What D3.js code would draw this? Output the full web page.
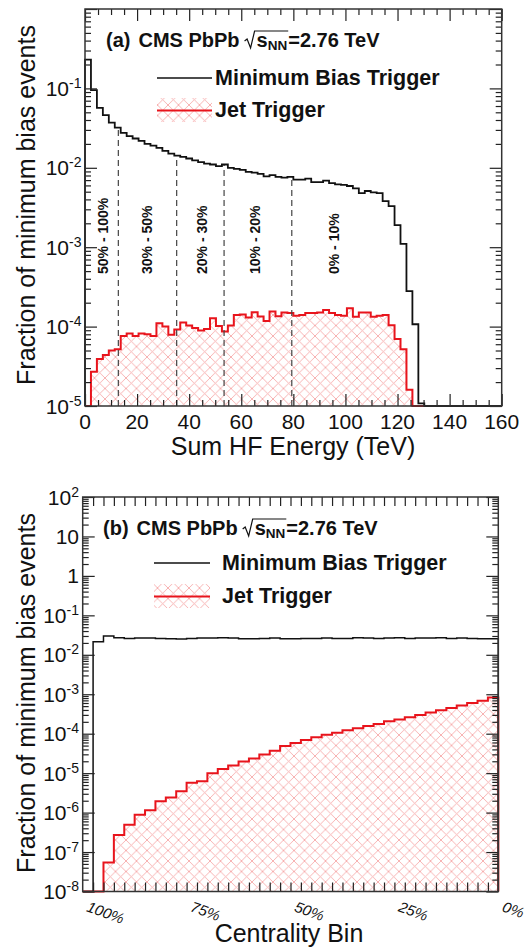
<!DOCTYPE html>
<html>
<head>
<meta charset="utf-8">
<script src="https://cdn.jsdelivr.net/npm/d3@7"></script>
<style>
body { margin: 0; background: #fff; }
text { font-family: "Liberation Sans", Arial, Helvetica, sans-serif; fill: #111; }
.leg { font-weight: bold; font-size: 20px; }
.legrow { font-weight: bold; font-size: 21.5px; }
</style>
</head>
<body>
<svg id="chart" width="532" height="947"></svg>
<script>
// Sum HF energy histogram, 70 bins over 0-160 TeV
const hfRange = [0, 160]
const hfBins = 70
const minBiasHF = [0.23, 0.095, 0.057, 0.046, 0.037, 0.032, 0.0275, 0.025, 0.0234, 0.0218,
    0.020, 0.019, 0.0178, 0.0163, 0.0151, 0.0142, 0.0137, 0.0131, 0.0124, 0.0118,
    0.0113, 0.0110, 0.0105, 0.0110, 0.0100, 0.0097, 0.0094, 0.0089, 0.0087, 0.0084,
    0.0078, 0.0081, 0.0077, 0.0075, 0.0077, 0.0071, 0.0071, 0.0073, 0.0066, 0.0066,
    0.0069, 0.0064, 0.0062, 0.0061, 0.0059, 0.0055, 0.0048, 0.0051, 0.0049, 0.0048,
    0.0038, 0.0033, 0.0019, 0.0011, 0.00028, 0.000107, 0.0000108, 0, 0, 0,
    0, 0, 0, 0, 0, 0, 0, 0, 0, 0]
const jetHF = [0, 2.7e-5, 3.9e-5, 4.4e-5, 5.0e-5, 5.2e-5, 7.6e-5, 8.2e-5, 7.6e-5, 8.2e-5,
    8.0e-5, 7.6e-5, 1.1e-4, 1.0e-4, 7.9e-5, 9.2e-5, 1.13e-4, 1.03e-4, 9.6e-5, 8.9e-5,
    9.3e-5, 1.27e-4, 1.02e-4, 8.7e-5, 1.03e-4, 1.4e-4, 1.42e-4, 1.3e-4, 1.52e-4, 1.34e-4,
    1.18e-4, 1.55e-4, 1.35e-4, 1.5e-4, 1.48e-4, 1.37e-4, 1.4e-4, 1.48e-4, 1.48e-4, 1.5e-4,
    1.62e-4, 1.48e-4, 1.4e-4, 1.37e-4, 1.7e-4, 1.33e-4, 1.5e-4, 1.5e-4, 1.33e-4, 1.37e-4,
    1.4e-4, 1.04e-4, 7.0e-5, 5.2e-5, 1.6e-5, 0, 0, 0, 0, 0,
    0, 0, 0, 0, 0, 0, 0, 0, 0, 0]
const hfCuts = [12.8, 35.2, 53.4, 79.4]
const classLabels = ['50% - 100%', '30% - 50%', '20% - 30%', '10% - 20%', '0% - 10%']
const classLabelPos = [6.9, 23.7, 44.8, 65.3, 95.8]
const hfTickLabels = [0, 20, 40, 60, 80, 100, 120, 140, 160]
const hfDecades = [-5, -4, -3, -2, -1]

// Centrality bins, 40 bins of 2.5 %, drawn from 100 % (left) to 0 % (right)
const centBins = 40
const minBiasCent = [0, 0.0215, 0.0298, 0.0271, 0.026, 0.0266, 0.0266, 0.026, 0.0256, 0.0251,
    0.026, 0.0266, 0.0266, 0.0271, 0.0266, 0.0256, 0.0256, 0.026, 0.0266, 0.0256,
    0.0256, 0.026, 0.026, 0.0266, 0.026, 0.026, 0.0271, 0.0266, 0.026, 0.0266,
    0.0271, 0.026, 0.0266, 0.0266, 0.0271, 0.026, 0.0266, 0.026, 0.0256, 0.0256]
const jetCent = [0, 0, 5.4e-8, 2.7e-7, 4.9e-7, 8.8e-7, 1.15e-6, 1.95e-6, 2.43e-6, 3.5e-6,
    5.75e-6, 6.2e-6, 9.9e-6, 1.28e-5, 1.56e-5, 1.98e-5, 2.36e-5, 2.98e-5, 3.68e-5, 4.85e-5,
    5.8e-5, 6.9e-5, 8.1e-5, 9.4e-5, 1.06e-4, 1.22e-4, 1.37e-4, 1.57e-4, 1.77e-4, 2.07e-4,
    2.28e-4, 2.62e-4, 3.0e-4, 3.44e-4, 3.95e-4, 4.5e-4, 5.2e-4, 6.0e-4, 6.8e-4, 8.3e-4]
const centTickLabels = ['100%', '75%', '50%', '25%', '0%']
const centTickPos = [100, 75, 50, 25, 0]
const centDecades = [2, 1, 0, -1, -2, -3, -4, -5, -6, -7, -8]

const yTitle = 'Fraction of minimum bias events'

const svg = d3.select('#chart')

const defs = svg.append('defs')
const pat = defs.append('pattern').attr('id', 'hatch').attr('patternUnits', 'userSpaceOnUse')
    .attr('width', 10.5).attr('height', 10.5)
pat.append('path').attr('d', 'M0,0 L10.5,10.5 M10.5,0 L0,10.5 M-1,9.5 L1,11.5 M9.5,-1 L11.5,1')
    .style('stroke', '#f7aaaa').style('stroke-width', 0.9).style('fill', 'none')

// Top panel scales
const x1 = d3.scaleLinear().domain(hfRange).range([85, 501.7])
const y1 = d3.scaleLog().domain([1e-5, 1]).range([406, 9])
// Bottom panel scales (centrality percent, reversed)
const x2 = d3.scaleLinear().domain([100, 0]).range([82.7, 498.3])
const y2 = d3.scaleLog().domain([1e-8, 1e2]).range([891.5, 497])

const hfEdges = d3.range(hfBins + 1).map(i => hfRange[0] + i * (hfRange[1] - hfRange[0]) / hfBins)
const centEdges = d3.range(centBins + 1).map(i => 100 - i * 100 / centBins)

function stepPoints(values, edges, ymin) {
    let pts = [[edges[0], ymin]]
    values.forEach((v, i) => {
        let vv = Math.max(v, ymin)
        pts.push([edges[i], vv], [edges[i + 1], vv])
    })
    pts.push([edges[edges.length - 1], ymin])
    return pts
}

function drawHists(g, x, y, mb, jet, edges) {
    const ymin = y.domain()[0]
    const line = d3.line().x(d => x(d[0])).y(d => y(d[1]))
    const jp = stepPoints(jet, edges, ymin)
    g.append('path').attr('d', line(jp) + 'Z').style('fill', 'url(#hatch)').style('stroke', 'none')
    g.append('path').attr('d', line(jp)).style('fill', 'none').style('stroke', '#e8141c').style('stroke-width', 2)
    return line(stepPoints(mb, edges, ymin))
}

function logTicks(decLo, decHi) {
    return d3.range(decLo, decHi).flatMap(e => d3.range(2, 10).map(m => m * Math.pow(10, e)))
}

function frameAxes(x, y, xMajor, xMinor, xMajLen, xMinLen, decLo, decHi) {
    const [l, r] = x.range().slice().sort((a, b) => a - b)
    const [b, t] = y.range()
    const g = svg.append('g').style('color', '#222')
    const yMaj = d3.range(decLo, decHi + 1).map(e => Math.pow(10, e))
    const yMin = logTicks(decLo, decHi)
    const add = (axis, tr) => {
        const a = g.append('g').attr('transform', tr).call(axis)
        a.select('.domain').remove()
        a.selectAll('line').style('stroke-width', 1.2)
    }
    add(d3.axisLeft(y).tickValues(yMaj).tickSize(-12).tickFormat(''), `translate(${l},0)`)
    add(d3.axisLeft(y).tickValues(yMin).tickSize(-6).tickFormat(''), `translate(${l},0)`)
    add(d3.axisRight(y).tickValues(yMaj).tickSize(-12).tickFormat(''), `translate(${r},0)`)
    add(d3.axisRight(y).tickValues(yMin).tickSize(-6).tickFormat(''), `translate(${r},0)`)
    add(d3.axisBottom(x).tickValues(xMajor).tickSize(-xMajLen).tickFormat(''), `translate(0,${b})`)
    add(d3.axisTop(x).tickValues(xMajor).tickSize(-xMajLen).tickFormat(''), `translate(0,${t})`)
    if (xMinor.length) {
        add(d3.axisBottom(x).tickValues(xMinor).tickSize(-xMinLen).tickFormat(''), `translate(0,${b})`)
        add(d3.axisTop(x).tickValues(xMinor).tickSize(-xMinLen).tickFormat(''), `translate(0,${t})`)
    }
    g.append('rect').attr('x', l).attr('y', t).attr('width', r - l).attr('height', b - t)
        .style('fill', 'none').style('stroke', '#333').style('stroke-width', 1.5)
    return g
}

function powerLabels(y, decades, xr) {
    decades.forEach(e => {
        const t = svg.append('text').attr('x', xr).attr('y', y(Math.pow(10, e)) + 7.5)
            .attr('text-anchor', 'end').style('font-size', '21px')
        if (e === 0) t.text('1')
        else if (e === 1) t.text('10')
        else {
            t.append('tspan').text('10')
            t.append('tspan').attr('dy', -8).style('font-size', '14px').text(e < 0 ? '-' + (-e) : '' + e)
        }
    })
}

function legendTitle(x, y, tag) {
    const gap = 8
    const t1 = svg.append('text').attr('class', 'leg').attr('x', x).attr('y', y)
    t1.append('tspan').text(tag)
    t1.append('tspan').attr('dx', gap).text('CMS PbPb')
    // computed length leaves out the dx shift, so add it back
    const rx = x + t1.node().getComputedTextLength() + gap + 5
    const t2 = svg.append('text').attr('class', 'leg').attr('x', rx + 12).attr('y', y)
    const s = t2.append('tspan').text('s')
    const nn = t2.append('tspan').attr('dy', 3).style('font-size', '13.5px').text('NN')
    t2.append('tspan').attr('dy', -3).attr('dx', 1).text('=2.76 TeV')
    const ow = s.node().getComputedTextLength() + nn.node().getComputedTextLength() + 1
    svg.append('path')
        .attr('d', `M${rx},${y - 6} L${rx + 2.5},${y - 8} L${rx + 6},${y + 1} L${rx + 10},${y - 16} L${rx + 12 + ow},${y - 16}`)
        .style('fill', 'none').style('stroke', '#111').style('stroke-width', 1.2)
}

function legendRows(xl, xr, xt, yMb, yJet) {
    svg.append('line').attr('x1', xl).attr('x2', xr).attr('y1', yMb - 7).attr('y2', yMb - 7)
        .style('stroke', '#111').style('stroke-width', 1.5)
    svg.append('text').attr('class', 'legrow').attr('x', xt).attr('y', yMb).text('Minimum Bias Trigger')
    svg.append('rect').attr('x', xl).attr('y', yJet - 19).attr('width', xr - xl).attr('height', 24)
        .style('fill', 'url(#hatch)')
    svg.append('line').attr('x1', xl).attr('x2', xr).attr('y1', yJet - 6.5).attr('y2', yJet - 6.5)
        .style('stroke', '#e8141c').style('stroke-width', 2)
    svg.append('text').attr('class', 'legrow').attr('x', xt).attr('y', yJet).text('Jet Trigger')
}

// ---------- Panel (a) ----------
const gA = svg.append('g')
const mbPathA = drawHists(gA, x1, y1, minBiasHF, jetHF, hfEdges)

// centrality class boundaries: dashed up to the min-bias curve
hfCuts.forEach(c => {
    const i = Math.min(hfBins - 1, Math.floor(c / (hfRange[1] / hfBins)))
    gA.append('line').attr('x1', x1(c)).attr('x2', x1(c)).attr('y1', y1.range()[0]).attr('y2', y1(minBiasHF[i]))
        .style('stroke', '#444').style('stroke-width', 1.2).style('stroke-dasharray', '6,4')
})
gA.append('path').attr('d', mbPathA).style('fill', 'none').style('stroke', '#111').style('stroke-width', 1.8)

classLabels.forEach((lab, i) => {
    svg.append('text').attr('transform', `translate(${x1(classLabelPos[i]) + 5},274) rotate(-90)`)
        .style('font-size', '14px').style('font-weight', 'bold').text(lab)
})

frameAxes(x1, y1, hfTickLabels, d3.range(5, 160, 5).filter(v => v % 20), 12, 6, -5, 0)

hfTickLabels.forEach(v => {
    svg.append('text').attr('x', x1(v)).attr('y', 429).attr('text-anchor', 'middle')
        .style('font-size', '21px').text(v)
})
powerLabels(y1, hfDecades, 81.5)
svg.append('text').attr('x', 293).attr('y', 455).attr('text-anchor', 'middle').style('font-size', '25px')
    .text('Sum HF Energy (TeV)')
svg.append('text').attr('transform', 'translate(35,205) rotate(-90)').attr('text-anchor', 'middle')
    .style('font-size', '25px').text(yTitle)

legendTitle(106, 47, '(a)')
legendRows(157, 212, 215, 85, 117)

// ---------- Panel (b) ----------
const gB = svg.append('g')
const mbPathB = drawHists(gB, x2, y2, minBiasCent, jetCent, centEdges)
gB.append('path').attr('d', mbPathB).style('fill', 'none').style('stroke', '#111').style('stroke-width', 1.5)

frameAxes(x2, y2, centEdges.slice(1, -1), [], 9, 0, -8, 2)

powerLabels(y2, centDecades, 79)
centTickLabels.forEach((lab, i) => {
    svg.append('text').attr('transform', `translate(${x2(centTickPos[i]) + 3},911) rotate(20)`)
        .style('font-size', '15px').style('font-style', 'italic').text(lab)
})
svg.append('text').attr('x', 289).attr('y', 942).attr('text-anchor', 'middle').style('font-size', '25px')
    .text('Centrality Bin')
svg.append('text').attr('transform', 'translate(35,693) rotate(-90)').attr('text-anchor', 'middle')
    .style('font-size', '25px').text(yTitle)

legendTitle(103, 535, '(b)')
legendRows(154, 210, 222, 570, 603)
</script>
</body>
</html>
